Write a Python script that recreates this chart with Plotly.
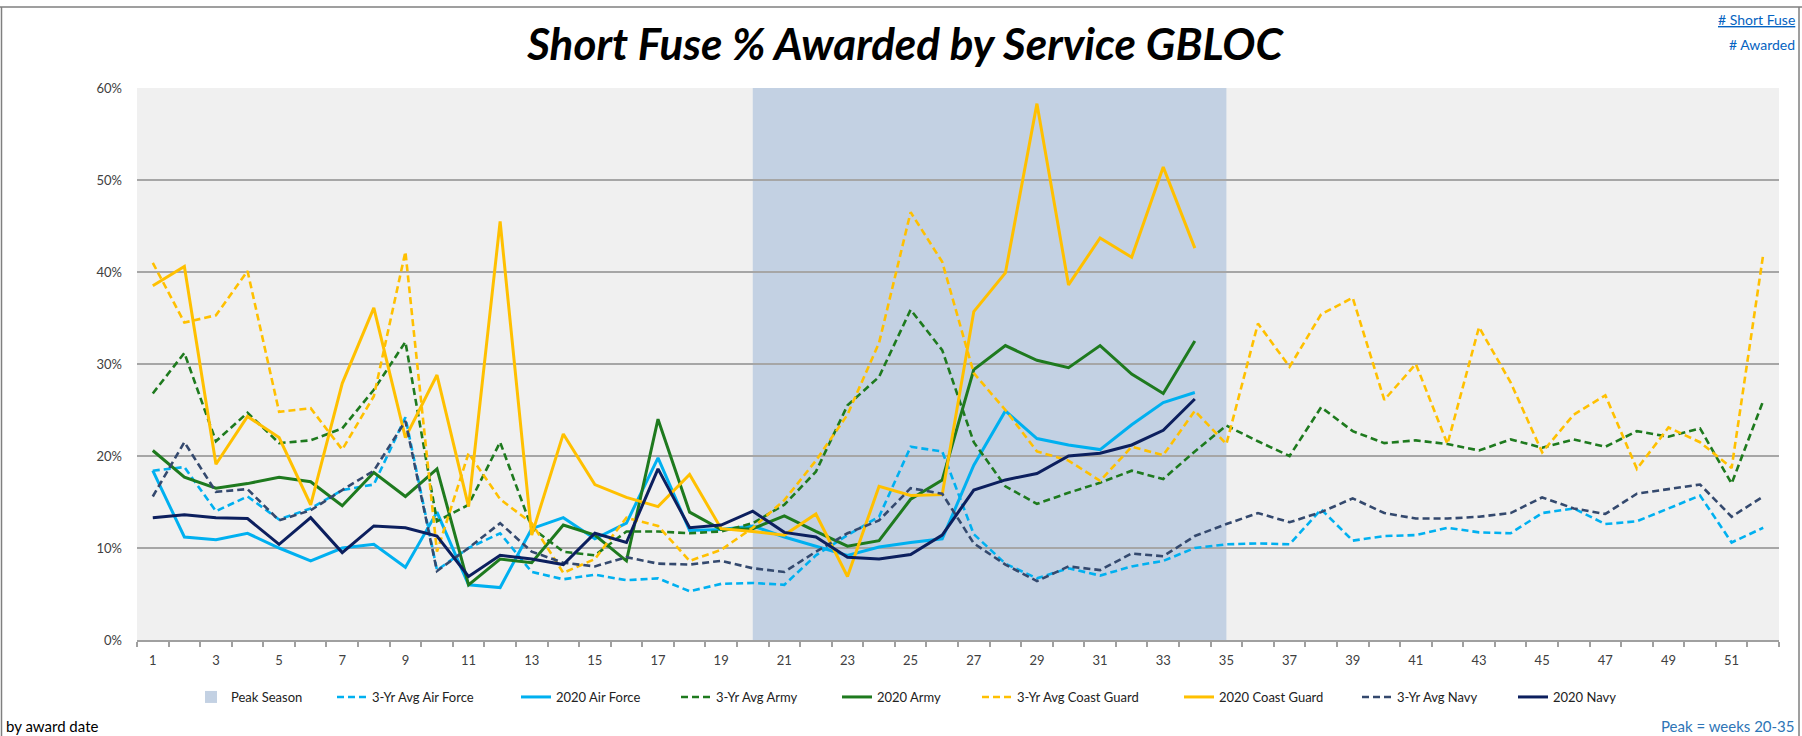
import plotly.graph_objects as go

# ---------------- data ----------------
weeks = list(range(1, 53))
weeks_2020 = list(range(1, 35))

avg_air_force = [18.4, 18.8, 14.0, 15.6, 13.1, 14.3, 16.3, 16.9, 24.2, 7.6, 10.0, 11.6, 7.4, 6.6, 7.1, 6.5, 6.7, 5.3,
                 6.1, 6.2, 6.0, 9.2, 11.4, 13.4, 21.0, 20.5, 11.5, 8.3, 6.7, 7.8, 7.0, 8.0, 8.6, 10.0, 10.4, 10.5,
                 10.4, 14.2, 10.8, 11.3, 11.4, 12.2, 11.7, 11.6, 13.8, 14.3, 12.6, 12.9, 14.3, 15.7, 10.6, 12.2]
air_force_2020 = [18.4, 11.2, 10.9, 11.6, 10.0, 8.6, 10.0, 10.4, 7.9, 13.9, 6.0, 5.7, 12.1, 13.3, 11.0, 12.7, 19.8,
                  11.9, 12.0, 12.4, 11.2, 10.2, 9.2, 10.1, 10.6, 11.0, 19.0, 24.9, 21.9, 21.2, 20.7, 23.4, 25.8, 26.9]
avg_army = [26.8, 31.2, 21.6, 24.7, 21.4, 21.7, 23.0, 27.2, 32.4, 12.9, 14.7, 21.5, 12.2, 9.6, 9.2, 11.8, 11.8, 11.6,
            11.8, 12.7, 14.7, 18.3, 25.5, 28.6, 35.9, 31.5, 21.5, 16.7, 14.8, 16.0, 17.1, 18.4, 17.5, 20.5, 23.3, 21.6,
            20.0, 25.3, 22.7, 21.4, 21.7, 21.3, 20.6, 21.8, 20.9, 21.8, 21.0, 22.7, 22.1, 23.0, 17.0, 26.0]
army_2020 = [20.6, 17.7, 16.5, 17.0, 17.7, 17.2, 14.6, 18.2, 15.6, 18.6, 6.0, 8.8, 8.4, 12.5, 11.4, 8.6, 24.0, 13.9,
             12.0, 12.1, 13.5, 11.8, 10.2, 10.8, 15.3, 17.4, 29.4, 32.0, 30.4, 29.6, 32.0, 28.9, 26.8, 32.5]
avg_coast_guard = [41.0, 34.5, 35.3, 40.1, 24.8, 25.2, 20.7, 26.5, 42.2, 9.6, 20.3, 15.3, 12.7, 7.3, 8.8, 13.3, 12.4,
                   8.6, 9.8, 12.2, 15.2, 19.5, 24.5, 32.3, 46.5, 41.1, 29.0, 25.0, 20.5, 19.5, 17.3, 21.0, 20.1, 24.9,
                   21.3, 34.4, 29.7, 35.4, 37.2, 26.1, 30.0, 21.3, 34.0, 28.0, 20.4, 24.5, 26.6, 18.6, 23.1, 21.5,
                   18.7, 41.9]
coast_guard_2020 = [38.5, 40.6, 19.1, 24.3, 22.0, 14.7, 27.9, 36.1, 22.0, 28.8, 14.5, 45.5, 11.4, 22.4, 16.9, 15.5,
                    14.5, 18.0, 12.1, 11.8, 11.4, 13.7, 6.9, 16.7, 15.7, 15.8, 35.7, 39.9, 58.3, 38.6, 43.7, 41.6,
                    51.4, 42.6]
avg_navy = [15.6, 21.5, 16.1, 16.4, 13.0, 14.1, 16.3, 18.4, 23.8, 7.5, 10.0, 12.7, 9.6, 8.4, 8.0, 9.0, 8.3, 8.2, 8.6,
            7.8, 7.4, 9.6, 11.6, 13.0, 16.5, 15.9, 10.5, 8.2, 6.4, 8.0, 7.6, 9.4, 9.1, 11.3, 12.6, 13.8, 12.8, 13.9,
            15.4, 13.8, 13.2, 13.2, 13.4, 13.8, 15.5, 14.3, 13.7, 15.9, 16.4, 16.9, 13.4, 15.6]
navy_2020 = [13.3, 13.6, 13.3, 13.2, 10.4, 13.3, 9.5, 12.4, 12.2, 11.3, 6.9, 9.2, 8.8, 8.2, 11.6, 10.6, 18.6, 12.2,
             12.5, 14.0, 11.7, 11.2, 9.0, 8.8, 9.3, 11.4, 16.3, 17.4, 18.1, 20.0, 20.3, 21.2, 22.8, 26.2]

peak_start, peak_end = 20, 35
x_tick_labels = [str(w) for w in range(1, 53, 2)]
y_ticks = [0, 10, 20, 30, 40, 50, 60]

title_text = "Short Fuse % Awarded by Service GBLOC"

# ---------------- style ----------------
W, H = 1802, 736
ML, MR, MT, MB = 137, 23, 88, 96
PW, PH = W - ML - MR, H - MT - MB

C_AF = "#00B0F0"
C_ARMY = "#1E7A1E"
C_CG = "#FFC000"
C_NAVY_AVG = "#34496E"
C_NAVY = "#0C1F5E"
DASH = "7px,4px"
FONT = "Lato, 'Open Sans', sans-serif"

# text start (px) of each legend entry, in legend order
legend_text_px = [235, 376, 560, 720, 881, 1021, 1223, 1401, 1557]
LEGEND_Y_PX = 697

series = [
    ("3-Yr Avg Air Force", weeks, avg_air_force, C_AF, DASH, 2.6),
    ("2020 Air Force", weeks_2020, air_force_2020, C_AF, "solid", 3),
    ("3-Yr Avg Army", weeks, avg_army, C_ARMY, DASH, 2.6),
    ("2020 Army", weeks_2020, army_2020, C_ARMY, "solid", 3),
    ("3-Yr Avg Coast Guard", weeks, avg_coast_guard, C_CG, DASH, 2.6),
    ("2020 Coast Guard", weeks_2020, coast_guard_2020, C_CG, "solid", 3),
    ("3-Yr Avg Navy", weeks, avg_navy, C_NAVY_AVG, DASH, 2.6),
    ("2020 Navy", weeks_2020, navy_2020, C_NAVY, "solid", 3),
]


def px_x(px):
    return (px - ML) / PW


def px_y(py):
    return (H - MB - py) / PH


def legend_key(i):
    return "legend" if i == 0 else f"legend{i + 1}"


fig = go.Figure()
for i, (name, xs, ys, color, dash, width) in enumerate(series):
    fig.add_trace(go.Scatter(x=xs, y=ys, name=name, mode="lines",
                             line=dict(color=color, dash=dash, width=width),
                             legend=legend_key(i + 1),
                             hovertemplate="Week %{x}: %{y:.1f}%<extra>" + name + "</extra>"))

# peak season band
fig.add_shape(type="rect", xref="x", yref="y", x0=peak_start, x1=peak_end, y0=0, y1=60,
              fillcolor="#C3D1E3", line=dict(width=0), layer="below",
              showlegend=True, name="Peak Season", legend="legend")

# outer chart border
border = dict(color="#7F7F7F", width=1.5)
fig.add_shape(type="line", xref="paper", yref="paper", x0=px_x(0), x1=px_x(W), y0=px_y(7), y1=px_y(7), line=border)
fig.add_shape(type="line", xref="paper", yref="paper", x0=px_x(1.5), x1=px_x(1.5), y0=px_y(7), y1=px_y(H), line=border)
fig.add_shape(type="line", xref="paper", yref="paper", x0=px_x(1799), x1=px_x(1799), y0=px_y(7), y1=px_y(H), line=border)

# annotations
fig.add_annotation(xref="paper", yref="paper", x=px_x(1797), y=px_y(20), xanchor="right", yanchor="middle",
                   text="<u># Short Fuse</u>", showarrow=False, font=dict(family=FONT, size=14, color="#0563C1"))
fig.add_annotation(xref="paper", yref="paper", x=px_x(1797), y=px_y(44), xanchor="right", yanchor="middle",
                   text="# Awarded", showarrow=False, font=dict(family=FONT, size=14, color="#0563C1"))
fig.add_annotation(xref="paper", yref="paper", x=px_x(4), y=px_y(726), xanchor="left", yanchor="middle",
                   text="by award date", showarrow=False, font=dict(family=FONT, size=15, color="#000000"))
fig.add_annotation(xref="paper", yref="paper", x=px_x(1797), y=px_y(726), xanchor="right", yanchor="middle",
                   text=f"Peak = weeks {peak_start}-{peak_end}", showarrow=False,
                   font=dict(family=FONT, size=15, color="#2E75B6"))

legends = {}
for i, tx in enumerate(legend_text_px):
    legends[legend_key(i)] = dict(orientation="h", x=px_x(tx - 44), xanchor="left", y=px_y(LEGEND_Y_PX),
                                  yanchor="middle", font=dict(family=FONT, size=13, color="#222222"),
                                  bgcolor="rgba(0,0,0,0)")

fig.update_layout(
    width=W, height=H,
    margin=dict(l=ML, r=MR, t=MT, b=MB, autoexpand=False),
    paper_bgcolor="#FFFFFF", plot_bgcolor="#F0F0F0",
    title=dict(text=title_text, xref="container", x=905 / W, xanchor="center", yref="container",
               y=1 - 45 / H, yanchor="middle",
               font=dict(family="Lato, sans-serif", size=44, color="#000000", weight="bold", style="italic")),
    font=dict(family=FONT, size=13, color="#404040"),
    showlegend=True,
    xaxis=dict(range=[0.5, 52.5], tickmode="array", tickvals=list(range(1, 53, 2)), ticktext=x_tick_labels,
               ticks="", showgrid=False, zeroline=False, showline=True, linecolor="#A0A0A0", linewidth=1.5,
               ticklabelstandoff=8, tickfont=dict(size=13, color="#404040"),
               minor=dict(tickmode="linear", tick0=0.5, dtick=1, ticks="outside", ticklen=5,
                          tickcolor="#A0A0A0", tickwidth=1.5, showgrid=False)),
    yaxis=dict(range=[0, 60], tickmode="array", tickvals=y_ticks, ticktext=[f"{v}%" for v in y_ticks],
               showgrid=True, gridcolor="#A6A6A6", gridwidth=1.5, zeroline=False, showline=False,
               ticks="", ticklabelstandoff=14, tickfont=dict(size=13, color="#404040")),
    **legends,
)

fig.write_html("out.html", config={"displayModeBar": False},
               post_script="document.body.style.margin='0';document.body.style.overflow='hidden';")
